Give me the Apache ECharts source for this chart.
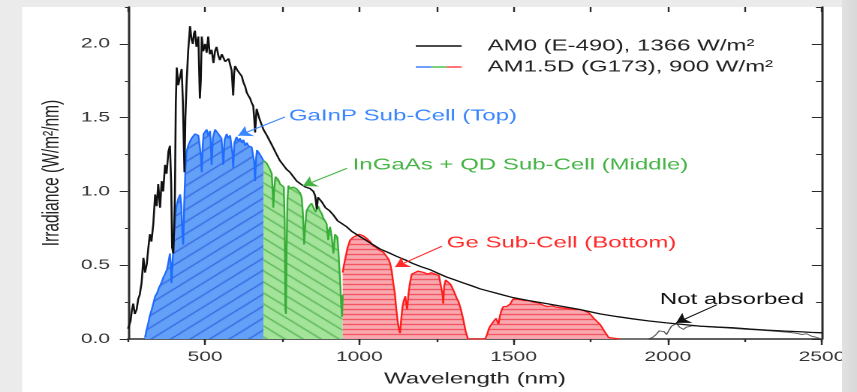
<!DOCTYPE html>
<html>
<head>
<meta charset="utf-8">
<script src="https://cdn.jsdelivr.net/npm/echarts@6/dist/echarts.min.js"></script>
<style>
html,body{margin:0;padding:0;overflow:hidden;background:#ebebeb;}
#main{width:571px;height:392px;transform:scaleX(1.50088);transform-origin:0 0;}
</style>
</head>
<body>
<div id="main"></div>
<script>
// AM0 (E-490) spectrum, black line
var am0Wl = [250,258,263,267,272,278,283,288,294,300,305,311,316,321,326,332,338,343,348,354,359,364,370,375,381,386,390,393,397,400,402,405,408,413,419,424,428,433,436,440,445,451,456,460,464,467,472,478,483,486,489,494,500,505,510,515,521,527,532,537,543,548,554,559,565,570,576,581,586,591,594,597,605,613,619,624,630,635,640,646,651,656,659,662,665,667,675,680,689,700,710,720,732,742,753,764,775,786,797,810,825,840,851,857,862,866,878,890,903,916,930,945,959,975,990,1013,1040,1067,1095,1121,1150,1175,1200,1229,1255,1283,1310,1337,1365,1391,1418,1445,1472,1499,1550,1607,1660,1715,1780,1835,1888,1940,1996,2050,2104,2160,2212,2265,2321,2375,2429,2465,2500];
var am0Val = [0.07,0.12,0.2,0.24,0.17,0.2,0.27,0.3,0.38,0.55,0.45,0.51,0.62,0.71,0.66,0.78,0.98,0.9,1.05,0.89,1.07,1.0,1.18,1.12,1.27,1.31,1.05,0.62,0.58,0.8,0.96,1.6,1.84,1.72,1.78,1.83,1.6,1.13,1.5,1.74,1.95,2.12,2.03,2.0,2.07,2.09,1.98,2.05,1.63,1.75,2.05,1.95,2.0,1.94,2.05,1.93,1.96,1.87,1.95,1.98,1.92,1.89,1.93,1.94,1.88,1.87,1.9,1.89,1.82,1.65,1.8,1.85,1.82,1.83,1.78,1.74,1.71,1.67,1.65,1.63,1.6,1.58,1.5,1.4,1.5,1.56,1.5,1.47,1.42,1.38,1.34,1.3,1.25,1.21,1.18,1.15,1.13,1.1,1.07,1.05,1.03,1.02,1.0,0.97,0.88,0.96,0.93,0.89,0.87,0.84,0.8,0.78,0.76,0.73,0.71,0.68,0.645,0.61,0.585,0.56,0.535,0.51,0.49,0.47,0.445,0.42,0.4,0.38,0.36,0.34,0.325,0.31,0.295,0.28,0.26,0.24,0.22,0.2,0.17,0.152,0.136,0.122,0.109,0.098,0.087,0.081,0.076,0.068,0.06,0.054,0.049,0.045,0.042];

// AM1.5D (G173), split by sub-cell
var topWl = [305,310,316,321,327,332,338,344,349,354,360,365,370,376,381,386,389,391,394,397,402,405,408,413,419,423,426,429,432,436,440,445,451,456,462,467,473,478,483,486,489,492,495,500,505,510,516,519,521,525,532,537,543,548,553,556,559,563,570,575,581,586,589,591,595,602,608,613,619,624,630,635,640,646,651,656,659,662,665,668,673,678,683,689];
var topVal = [0.01,0.06,0.11,0.16,0.2,0.24,0.29,0.31,0.34,0.35,0.39,0.42,0.44,0.47,0.52,0.58,0.5,0.38,0.5,0.62,0.78,0.86,0.91,0.95,0.98,0.9,0.72,0.64,0.9,1.15,1.27,1.31,1.34,1.36,1.37,1.39,1.4,1.38,1.38,1.25,1.13,1.3,1.39,1.4,1.42,1.38,1.41,1.3,1.18,1.36,1.42,1.43,1.39,1.4,1.36,1.28,1.18,1.35,1.39,1.36,1.38,1.38,1.25,1.16,1.33,1.37,1.34,1.36,1.33,1.35,1.31,1.33,1.31,1.3,1.3,1.29,1.2,1.07,1.22,1.28,1.27,1.25,1.24,1.21];

var midWl = [689,694,700,705,710,716,719,721,724,728,732,737,743,750,755,758,760,762,764,767,770,775,785,795,802,808,813,817,821,825,829,837,845,853,858,862,867,872,878,883,889,894,899,902,905,910,916,919,921,925,929,932,935,938,941,944,946];
var midVal = [1.21,1.2,1.19,1.18,1.15,1.12,1.0,0.89,1.02,1.1,1.11,1.08,1.05,1.06,1.03,0.8,0.2,0.17,0.6,0.95,1.04,1.02,1.03,1.02,1.01,0.99,0.96,0.85,0.64,0.78,0.87,0.9,0.92,0.91,0.86,0.88,0.9,0.87,0.85,0.82,0.8,0.78,0.67,0.74,0.76,0.7,0.58,0.66,0.71,0.7,0.69,0.6,0.49,0.38,0.24,0.15,0.3];

var botWl = [946,950,955,962,970,980,990,1000,1012,1025,1035,1045,1055,1066,1077,1088,1095,1100,1105,1110,1115,1120,1125,1129,1132,1136,1140,1144,1149,1152,1155,1159,1164,1170,1180,1190,1197,1210,1222,1233,1245,1258,1266,1270,1272,1275,1280,1287,1296,1305,1315,1322,1328,1335,1340,1345,1352,1408,1414,1420,1425,1432,1438,1443,1447,1451,1456,1462,1467,1472,1478,1484,1490,1498,1505,1512,1521,1535,1550,1563,1580,1595,1609,1625,1640,1660,1680,1700,1716,1730,1742,1752,1760,1770,1780,1788,1795,1802,1808,1813,1845];
var botVal = [0.45,0.5,0.55,0.62,0.67,0.69,0.7,0.71,0.7,0.68,0.66,0.63,0.62,0.6,0.59,0.56,0.54,0.51,0.46,0.38,0.31,0.2,0.11,0.06,0.04,0.14,0.22,0.26,0.29,0.24,0.2,0.3,0.38,0.44,0.45,0.46,0.45,0.45,0.44,0.45,0.44,0.43,0.42,0.3,0.24,0.36,0.4,0.4,0.37,0.33,0.28,0.25,0.21,0.15,0.1,0.05,0,0,0.03,0.07,0.09,0.11,0.1,0.14,0.15,0.1,0.16,0.2,0.22,0.21,0.22,0.23,0.24,0.27,0.26,0.27,0.27,0.26,0.26,0.25,0.245,0.23,0.22,0.225,0.215,0.21,0.205,0.2,0.2,0.19,0.18,0.16,0.14,0.12,0.1,0.075,0.05,0.03,0.01,0,0];

// not absorbed part
var naWl = [1845,1935,1950,1962,1972,1980,1988,1996,2004,2012,2020,2029,2038,2045,2051,2060,2067,2080,2095,2110,2150,2200,2250,2300,2350,2400,2420,2435,2450,2465,2480,2500];
var naVal = [0,0,0.01,0.03,0.055,0.065,0.05,0.03,0.06,0.087,0.1,0.105,0.08,0.07,0.065,0.08,0.087,0.09,0.088,0.085,0.08,0.073,0.066,0.06,0.052,0.044,0.038,0.03,0.036,0.02,0.012,0];

var majorX = [500,1000,1500,2000,2500];
var majorY = [0,0.5,1.0,1.5,2.0];

var S = 857 / 571;   // the whole figure is stretched sideways
var FF = 'Liberation Sans, Arial, sans-serif';
var axisCol = '#2b2b2b';
var nameAM0 = 'AM0 (E-490), 1366 W/m²';
var nameAM15 = 'AM1.5D (G173), 900 W/m²';

function pairs(xs, ys) {
    var out = [];
    for (var i = 0; i < xs.length; i++) out.push([xs[i], ys[i]]);
    return out;
}

// hatch tiles for the filled areas
function hatch(w, h, bg, fg, kind) {
    var c = document.createElement('canvas');
    c.width = w; c.height = h;
    var g = c.getContext('2d');
    g.fillStyle = bg;
    g.fillRect(0, 0, w, h);
    g.strokeStyle = fg;
    g.lineWidth = 1;
    g.beginPath();
    if (kind === 'h') {
        g.moveTo(0, h - 0.5); g.lineTo(w, h - 0.5);
    } else {
        for (var k = -1; k <= 1; k++) {
            if (kind === 'up') { g.moveTo(k * w, h); g.lineTo(k * w + w, 0); }
            else { g.moveTo(k * w, 0); g.lineTo(k * w + w, h); }
        }
    }
    g.stroke();
    return {image: c, repeat: 'repeat'};
}

function legendIcon(segs) {
    var c = document.createElement('canvas');
    c.width = 86; c.height = 28;
    var g = c.getContext('2d');
    g.lineWidth = 3;
    segs.forEach(function (sg) {
        g.strokeStyle = sg[2];
        g.beginPath();
        g.moveTo(sg[0] * 2, 14);
        g.lineTo(sg[1] * 2, 14);
        g.stroke();
    });
    return 'image://' + c.toDataURL();
}

function note(color, text, at, from, to) {
    return {
        markLine: {
            silent: true, animation: false,
            symbol: ['none', 'arrow'], symbolSize: 9,
            label: {show: false},
            lineStyle: {color: color, width: 1, type: 'solid'},
            data: [[{coord: from}, {coord: to}]]
        },
        markPoint: {
            silent: true, animation: false,
            symbol: 'circle', symbolSize: 1,
            itemStyle: {color: 'rgba(0,0,0,0)'},
            label: {show: true, position: 'right', distance: 0, formatter: '{b}',
                color: color, fontSize: 16, fontFamily: FF},
            data: [{name: text, coord: at}]
        }
    };
}

var myChart = echarts.init(document.getElementById('main'), null, {devicePixelRatio: 2});

var nTop = note('#3a86ff', 'GaInP Sub-Cell (Top)', [769, 1.512], [759, 1.505], [607, 1.378]);
var nMid = note('#45b445', 'InGaAs + QD Sub-Cell (Middle)', [976, 1.177], [960, 1.157], [817, 1.037]);
var nBot = note('#ff2b2b', 'Ge Sub-Cell (Bottom)', [1281, 0.649], [1268, 0.629], [1116, 0.488]);
var nNa = note('#111', 'Not absorbed', [1972, 0.268], [2159, 0.232], [2027, 0.109]);

var option = {
    backgroundColor: '#ebebeb',
    animation: false,
    grid: {left: 128 / S, right: 571 - 822 / S, top: 7, bottom: 49},
    legend: {
        orient: 'vertical', left: 408 / S, top: 33, itemGap: 5,
        itemWidth: 43, itemHeight: 14, selectedMode: false,
        textStyle: {fontSize: 16, color: '#222', fontFamily: FF, lineHeight: 16},
        data: [
            {name: nameAM0, icon: legendIcon([[0, 30.7, '#111']])},
            {name: nameAM15, icon: legendIcon([[0, 10.7, '#3f7fff'], [10.7, 20.7, '#4fc24f'], [20.7, 30.7, '#ff4848']])}
        ]
    },
    xAxis: [{
        type: 'value', min: 250, max: 2500, interval: 250, position: 'bottom',
        axisLine: {show: true, onZero: false, lineStyle: {color: axisCol, width: 1.5}},
        axisTick: {show: true, length: 3, lineStyle: {color: axisCol, width: 1.2}},
        axisLabel: {
            formatter: function (v) { return v % 500 === 0 ? String(v) : ''; },
            fontSize: 14, color: '#333', margin: 11, fontFamily: FF
        },
        splitLine: {show: false},
        name: 'Wavelength (nm)', nameLocation: 'middle', nameGap: 32,
        nameTextStyle: {fontSize: 16, color: '#222', fontFamily: FF}
    }, {
        type: 'value', min: 250, max: 2500, position: 'bottom',
        axisLine: {show: false, onZero: false},
        axisTick: {show: true, length: 6, customValues: majorX, lineStyle: {color: axisCol, width: 1.2}},
        axisLabel: {show: false}, splitLine: {show: false}
    }, {
        type: 'value', min: 250, max: 2500, interval: 250, position: 'top',
        axisLine: {show: false, onZero: false},
        axisTick: {show: true, inside: true, length: 5, lineStyle: {color: axisCol, width: 1.2}},
        axisLabel: {show: false}, splitLine: {show: false}
    }],
    yAxis: [{
        type: 'value', min: 0, max: 2.25, interval: 0.25, position: 'left',
        axisLine: {show: true, onZero: false, lineStyle: {color: axisCol, width: 1.5}},
        axisTick: {show: true, length: 2, lineStyle: {color: axisCol, width: 1}},
        axisLabel: {
            formatter: function (v) { return (Math.round(v * 100) % 50 === 0 && v <= 2) ? v.toFixed(1) : ''; },
            fontSize: 14, color: '#333', margin: 12, fontFamily: FF
        },
        splitLine: {show: false},
        name: 'Irradiance (W/m²/nm)', nameLocation: 'middle', nameGap: 40,
        nameTextStyle: {fontSize: 15.5, color: '#222', fontFamily: FF}
    }, {
        type: 'value', min: 0, max: 2.25, position: 'left',
        axisLine: {show: false, onZero: false},
        axisTick: {show: true, length: 5.5, customValues: majorY, lineStyle: {color: axisCol, width: 1}},
        axisLabel: {show: false}, splitLine: {show: false}
    }, {
        type: 'value', min: 0, max: 2.25, interval: 0.25, position: 'right',
        axisLine: {show: true, onZero: false, lineStyle: {color: axisCol, width: 1.5}},
        axisTick: {show: true, inside: true, length: 4, lineStyle: {color: axisCol, width: 1}},
        axisLabel: {show: false}, splitLine: {show: false}
    }, {
        type: 'value', min: 0, max: 2.25, position: 'right',
        axisLine: {show: false, onZero: false},
        axisTick: {show: true, inside: true, length: 6.8, customValues: majorY, lineStyle: {color: axisCol, width: 1}},
        axisLabel: {show: false}, splitLine: {show: false}
    }],
    graphic: [
        {type: 'rect', z: -10, silent: true,
            shape: {x: 22 / S, y: 7, width: (842 - 22) / S, height: 392 - 7},
            style: {fill: '#ffffff'}},
        {type: 'rect', z: 100, silent: true,
            shape: {x: 842 / S, y: 0, width: 20, height: 392},
            style: {fill: new echarts.graphic.LinearGradient(0, 0, 1, 0, [
                {offset: 0, color: '#e2e2e2'}, {offset: 1, color: '#cfcfcf'}])}}
    ],
    series: [{
        name: nameAM15, type: 'line', z: 2, showSymbol: false,
        data: pairs(topWl, topVal),
        lineStyle: {color: '#1f6cff', width: 1.2},
        areaStyle: {color: hatch(13, 12, '#63a1f8', '#2046d6', 'up'), opacity: 1},
        markLine: nTop.markLine, markPoint: nTop.markPoint
    }, {
        name: 'InGaAs + QD', type: 'line', z: 2, showSymbol: false,
        data: pairs(midWl, midVal),
        lineStyle: {color: '#36ad36', width: 1.2},
        areaStyle: {color: hatch(12, 11, '#a3e49a', '#2f9a2f', 'down'), opacity: 1},
        markLine: nMid.markLine, markPoint: nMid.markPoint
    }, {
        name: 'Ge', type: 'line', z: 2, showSymbol: false,
        data: pairs(botWl, botVal),
        lineStyle: {color: '#ff1c1c', width: 1.2},
        areaStyle: {color: hatch(4, 5, '#f8a8ae', '#f03c48', 'h'), opacity: 1},
        markLine: nBot.markLine, markPoint: nBot.markPoint
    }, {
        name: 'Not absorbed', type: 'line', z: 3, showSymbol: false,
        data: pairs(naWl, naVal),
        lineStyle: {color: '#555', width: 0.9},
        markLine: nNa.markLine, markPoint: nNa.markPoint
    }, {
        name: nameAM0, type: 'line', z: 4, showSymbol: false,
        data: pairs(am0Wl, am0Val),
        lineStyle: {color: '#111', width: 1.3}
    }]
};

myChart.setOption(option);
</script>
</body>
</html>
